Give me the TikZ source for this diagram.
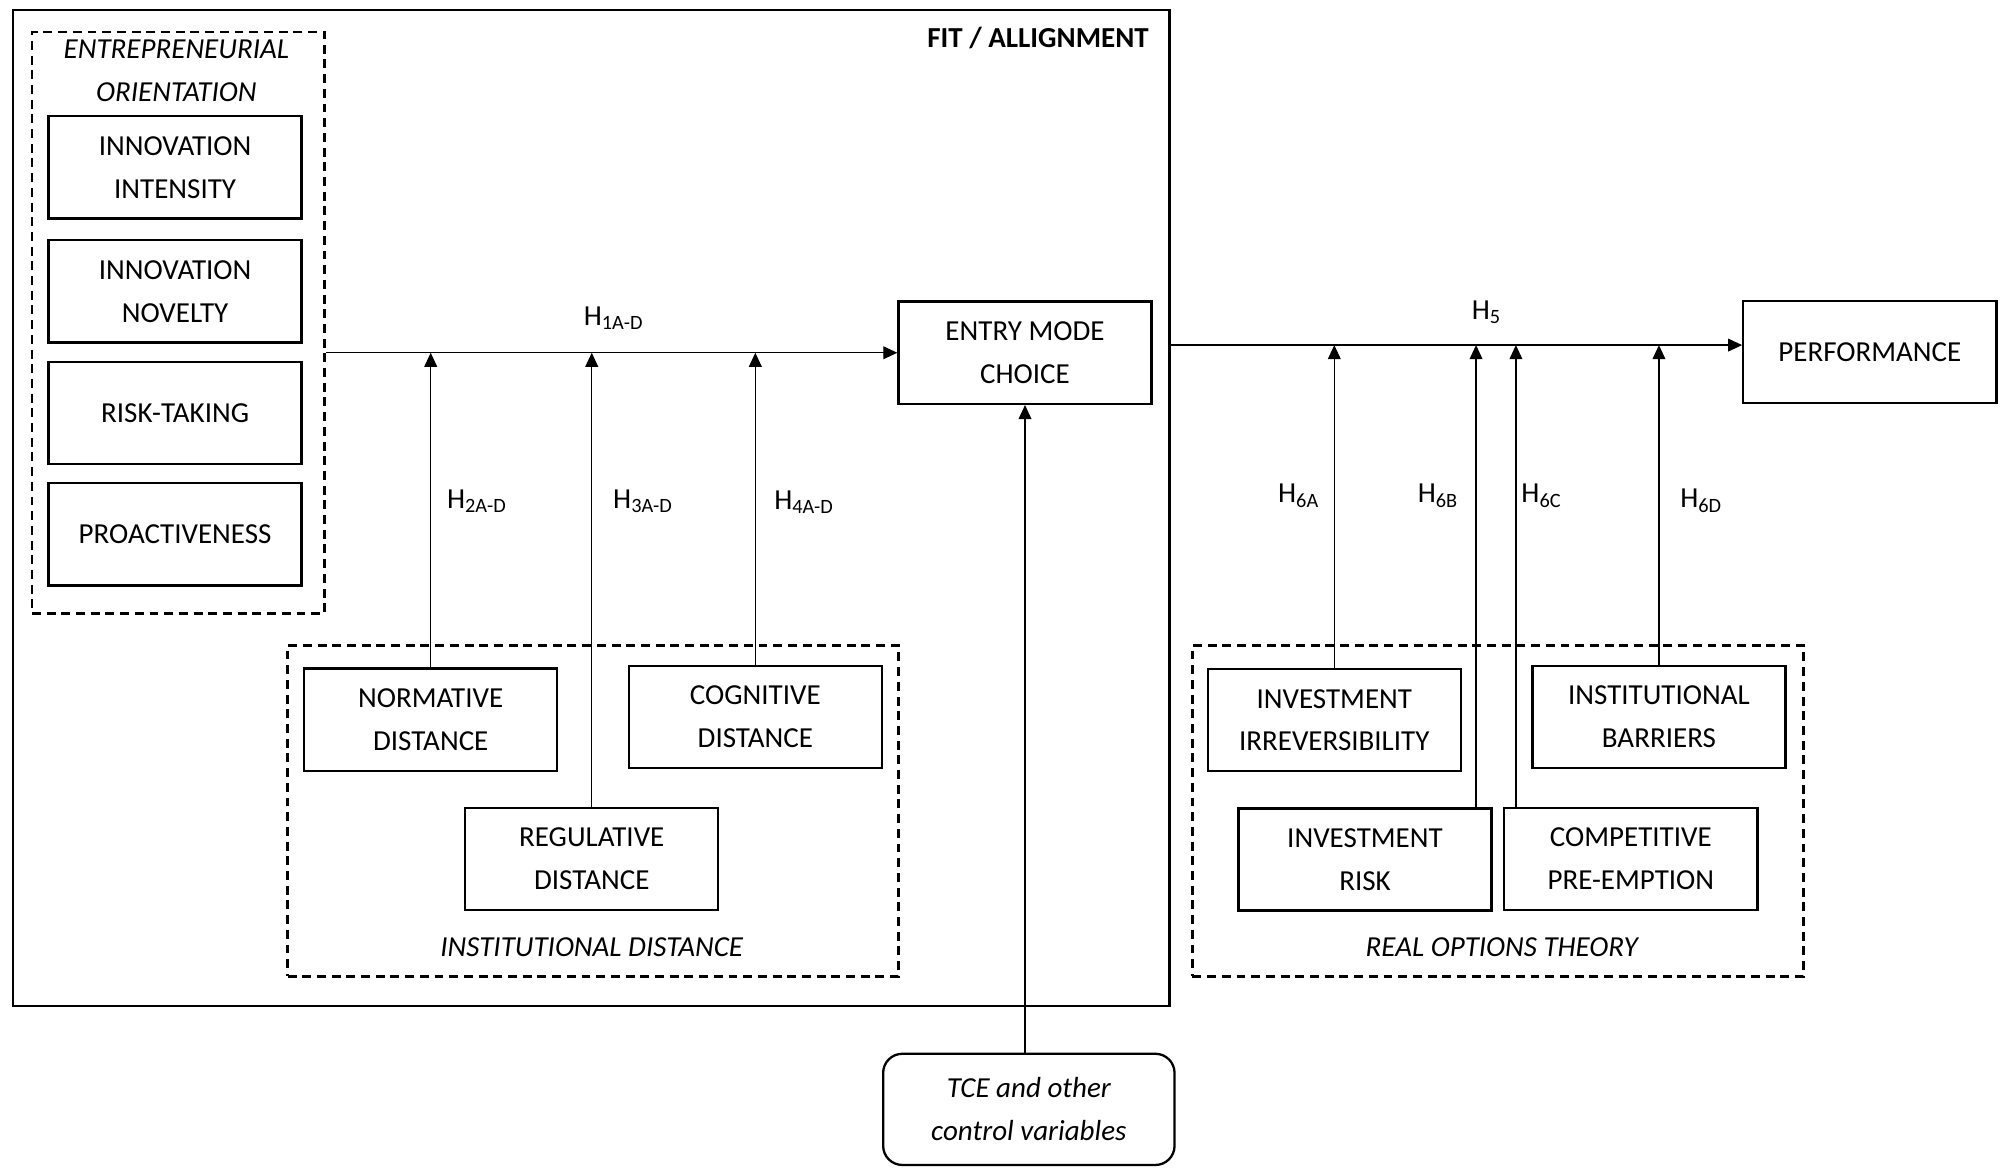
\documentclass[tikz,border=0pt]{standalone}
\usepackage{fontspec}
\setmainfont{Carlito}
\usetikzlibrary{arrows.meta,calc}
\newcommand\myfs{\fontsize{22.7}{33.5}\selectfont}
\begin{document}
\begin{tikzpicture}[x=1pt,y=-1pt,
  box/.style={draw, line width=1.8pt, minimum width=198pt, minimum height=80pt, inner sep=0pt, align=center, font=\myfs},
  grp/.style={draw, line width=1.8pt, dash pattern=on 7pt off 4.5pt, inner sep=0pt},
  arr/.style={line width=1pt, -{Triangle[length=11pt,width=10pt]}},
  lab/.style={font=\myfs, inner sep=0pt, align=center},
  ilab/.style={font=\myfs\itshape, inner sep=0pt, align=center},
]
\useasboundingbox (0,0) rectangle (1568,914);

% outer fit box
\node[draw, line width=1.8pt, minimum width=905pt, minimum height=779pt, inner sep=0pt] (fit) at (462.5,397.5) {};
\node[lab, anchor=east, font=\myfs\bfseries] (fitlab) at (899,30) {FIT / ALLIGNMENT};

% entrepreneurial orientation
\node[grp, minimum width=229pt, minimum height=455pt] (eo) at (139.5,252.5) {};
\node[ilab] (eolab) at (138,55.5) {ENTREPRENEURIAL\\ORIENTATION};
\node[box] (intens) at (137,131) {INNOVATION\\INTENSITY};
\node[box] (novel) at (137,228) {INNOVATION\\NOVELTY};
\node[box] (risktk) at (137,323) {RISK-TAKING};
\node[box] (proact) at (137,418) {PROACTIVENESS};

% entry mode
\node[box] (entry) at (802,276) {ENTRY MODE\\CHOICE};

% institutional distance
\node[grp, minimum width=478pt, minimum height=259pt] (inst) at (464,634.5) {};
\node[ilab] (instlab) at (463,741) {INSTITUTIONAL DISTANCE};
\node[box] (norm) at (337,563) {NORMATIVE\\DISTANCE};
\node[box] (cogn) at (591,561) {COGNITIVE\\DISTANCE};
\node[box] (regu) at (463,672) {REGULATIVE\\DISTANCE};

% TCE
\node[draw, line width=1.8pt, rounded corners=15pt, minimum width=228pt, minimum height=87pt, inner sep=0pt, align=center, font=\myfs\itshape] (tce) at (805,868) {TCE and other\\control variables};

% performance
\node[box] (perf) at (1463,275.5) {PERFORMANCE};

% real options
\node[grp, minimum width=478pt, minimum height=259pt] (rot) at (1172,634.5) {};
\node[ilab] (rotlab) at (1175,741) {REAL OPTIONS THEORY};
\node[box] (irr) at (1044,563.5) {INVESTMENT\\IRREVERSIBILITY};
\node[box] (barr) at (1298,561) {INSTITUTIONAL\\BARRIERS};
\node[box] (irisk) at (1068,672.5) {INVESTMENT\\RISK};
\node[box] (comp) at (1276,672) {COMPETITIVE\\PRE-EMPTION};

% H1 line
\draw[arr] (eo.east |- entry.west) -- (entry.west);
\node[lab] (h1) at (480,249) {H\textsubscript{1A-D}};
\draw[arr] (norm.north) -- (norm.north |- entry.west);
\draw[arr] (regu.north) -- (regu.north |- entry.west);
\draw[arr] (cogn.north) -- (cogn.north |- entry.west);
\node[lab] (h2) at (373,392) {H\textsubscript{2A-D}};
\node[lab] (h3) at (503,392) {H\textsubscript{3A-D}};
\node[lab] (h4) at (629,393) {H\textsubscript{4A-D}};

% TCE arrow
\draw[arr] (entry.south |- tce.north) -- (entry.south);

% H5 line
\coordinate (h5y) at (0,270);
\draw[arr] (fit.east |- h5y) -- (perf.west |- h5y);
\node[lab] (h5) at (1163,244) {H\textsubscript{5}};
\draw[arr] (irr.north) -- (irr.north |- h5y);
\coordinate (b6) at ($(irisk.north east)+(-13,0)$);
\coordinate (c6) at ($(comp.north west)+(10,0)$);
\draw[arr] (b6) -- (b6 |- h5y);
\draw[arr] (c6) -- (c6 |- h5y);
\draw[arr] (barr.north) -- (barr.north |- h5y);
\node[lab] (h6a) at (1016,388) {H\textsubscript{6A}};
\node[lab] (h6b) at (1125,388) {H\textsubscript{6B}};
\node[lab] (h6c) at (1206,388) {H\textsubscript{6C}};
\node[lab] (h6d) at (1331,392) {H\textsubscript{6D}};
\end{tikzpicture}
\end{document}
